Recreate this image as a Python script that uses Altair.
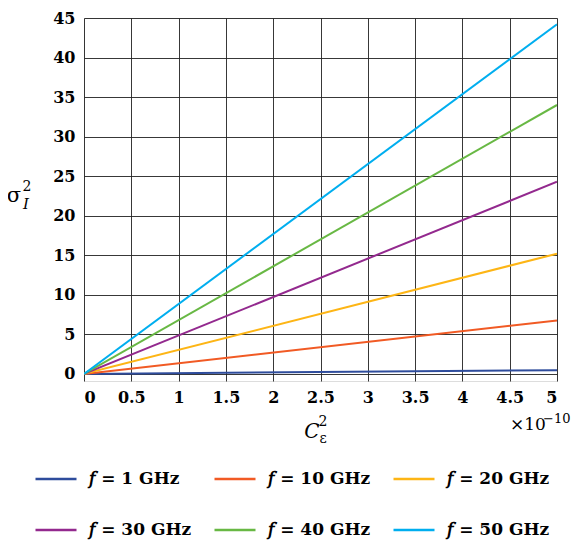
import altair as alt
import pandas as pd

# ---- data ----
series = ["𝑓 = 1 GHz", "𝑓 = 10 GHz", "𝑓 = 20 GHz", "𝑓 = 30 GHz", "𝑓 = 40 GHz", "𝑓 = 50 GHz"]
colors = ["#2E4C9C", "#F15A24", "#FDB515", "#93298E", "#68B844", "#00AEEF"]
x_points = [0, 5]
start_vals = [0, 0, 0, 0, 0, 0]
end_vals = [0.46, 6.75, 15.2, 24.3, 34.0, 44.2]
x_ticks = [0, 0.5, 1, 1.5, 2, 2.5, 3, 3.5, 4, 4.5, 5]
y_ticks = [0, 5, 10, 15, 20, 25, 30, 35, 40, 45]

rows = []
for s, y0, y1 in zip(series, start_vals, end_vals):
    rows.append({"x": x_points[0], "y": y0, "series": s})
    rows.append({"x": x_points[1], "y": y1, "series": s})
df = pd.DataFrame(rows)

FONT = "DejaVu Serif"
W, H = 473, 363

lines = alt.Chart(df).mark_line(strokeWidth=2, clip=True).encode(
    x=alt.X("x:Q", scale=alt.Scale(domain=[0, 5], nice=False, zero=False),
            axis=alt.Axis(values=x_ticks, format="~g", title=None, ticks=False,
                          domain=False, labelPadding=8, labelFont=FONT,
                          labelFontSize=16, labelFontWeight="bold",
                          labelColor="black",
                          gridColor="#222", gridOpacity=0.9, gridWidth=1)),
    y=alt.Y("y:Q", scale=alt.Scale(domain=[-0.9, 45], nice=False, zero=False),
            axis=alt.Axis(values=y_ticks, title=None, ticks=False, domain=False,
                          labelPadding=9, labelFont=FONT, labelFontSize=16,
                          labelFontWeight="bold",
                          labelColor="black", gridColor="#222",
                          gridOpacity=0.9, gridWidth=1)),
    color=alt.Color("series:N",
                    scale=alt.Scale(domain=series, range=colors),
                    sort=series,
                    legend=alt.Legend(orient="none", legendX=-50, legendY=439,
                                      columns=3, direction="horizontal",
                                      symbolType="stroke", symbolSize=1681,
                                      symbolStrokeWidth=2.5, labelFont=FONT,
                                      labelFontSize=17, labelFontWeight="bold",
                                      labelColor="black",
                                      labelOffset=11, labelLimit=300,
                                      columnPadding=17, rowPadding=21,
                                      title=None)),
    detail="series:N",
)

one = pd.DataFrame({"a": [0]})


def txt(t, x, y, size=20, style="normal", align="center", baseline="middle"):
    return alt.Chart(one).mark_text(
        text=t, font=FONT, fontSize=size, fontStyle=style, align=align,
        baseline=baseline, color="black"
    ).encode(x=alt.value(x), y=alt.value(y))


titles = [
    # y title  sigma_I^2
    txt("σ", -70, 178, size=21),
    txt("2", -57, 169, size=14),
    txt("I", -58, 186, size=15, style="italic"),
    # x title C_eps^2
    txt("C", 228, 414, size=20, style="italic"),
    txt("2", 239, 404, size=14),
    txt("ε", 239, 421, size=14),
    # x exponent
    txt("×10", 426, 407, size=17, align="left"),
    txt("−10", 459, 401, size=13, align="left"),
]

chart = alt.layer(lines, *titles).properties(
    width=W, height=H,
    autosize=alt.AutoSizeParams(type="none"),
    padding={"left": 76, "top": 10, "right": 17, "bottom": 160},
).configure_view(stroke="black", strokeWidth=1.3).configure(background="white")

chart.save("out.html", embed_options={"renderer": "svg", "actions": False})
